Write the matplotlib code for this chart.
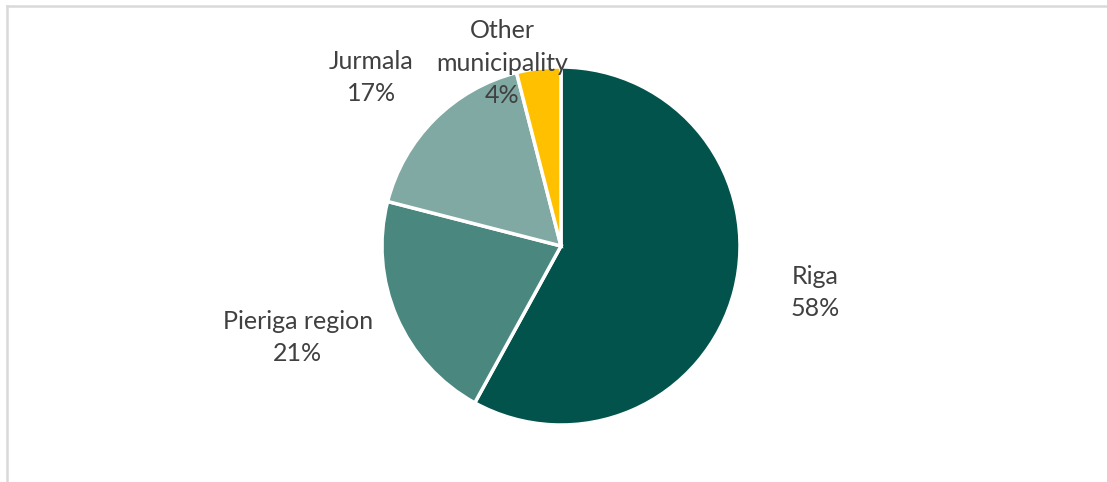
import matplotlib.pyplot as plt
from matplotlib.lines import Line2D

labels = ['Riga', 'Pieriga region', 'Jurmala', 'Other\nmunicipality']
shares = [58, 21, 17, 4]
colors = ['#02534B', '#4A877F', '#80A9A3', '#FFC000']
# where each label sits (axes data units, pie radius = 1)
label_pos = [(1.42, -0.26), (-1.47, -0.51), (-1.06, 0.94), (-0.33, 1.02)]

fig = plt.figure(figsize=(11.07, 4.82), dpi=100)
ax = fig.add_axes([382 / 1107, 57 / 482, 358 / 1107, 358 / 482])
ax.pie(shares, colors=colors, startangle=90, counterclock=False,
       wedgeprops=dict(edgecolor='white', linewidth=2.5))
ax.set_xlim(-1, 1)
ax.set_ylim(-1, 1)

for lab, val, (x, y) in zip(labels, shares, label_pos):
    ax.text(x, y, f'{lab}\n{val}%', ha='center', va='center', fontsize=18,
            family='Lato', color='#404040', linespacing=1.5, clip_on=False)

# light frame on the left and top edges
fig.add_artist(Line2D([7 / 1107, 7 / 1107], [0, 1 - 6 / 482], transform=fig.transFigure,
                      color='#d9d9d9', lw=1.8))
fig.add_artist(Line2D([7 / 1107, 1], [1 - 6 / 482, 1 - 6 / 482], transform=fig.transFigure,
                      color='#d9d9d9', lw=1.8))

fig.savefig('out.png', dpi=100)
